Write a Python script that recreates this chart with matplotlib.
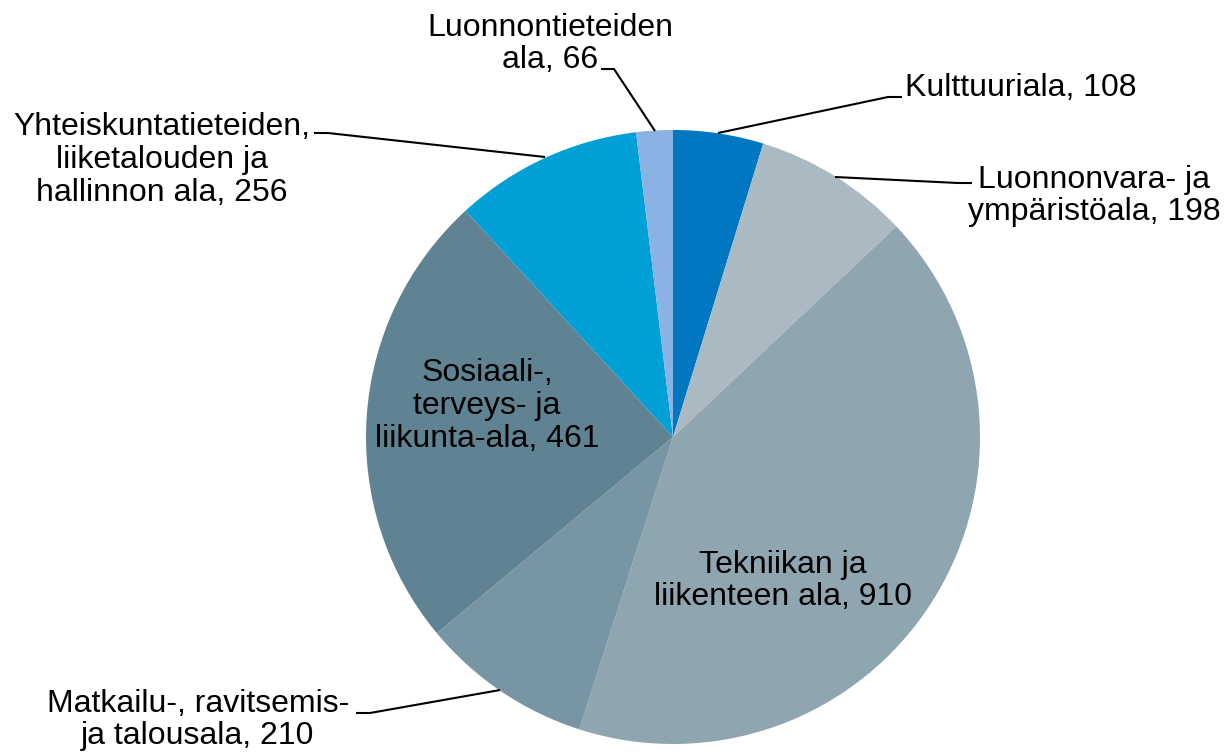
import matplotlib.pyplot as plt

# Slices, clockwise from 12 o'clock
names = ["Kulttuuriala", "Luonnonvara- ja\nympäristöala", "Tekniikan ja\nliikenteen ala",
         "Matkailu-, ravitsemis-\nja talousala", "Sosiaali-,\nterveys- ja\nliikunta-ala",
         "Yhteiskuntatieteiden,\nliiketalouden ja\nhallinnon ala", "Luonnontieteiden\nala"]
# numbers printed in the labels
values = [108, 198, 910, 210, 461, 256, 66]
# slice sizes as drawn in the picture (percent of the circle)
shares = [4.75, 8.22, 41.97, 9.03, 24.22, 9.89, 1.92]
colors = ["#0077C0", "#ABBAC2", "#8FA5B0", "#7795A3", "#5F8393", "#00A0D7", "#8AB2E3"]

W, H = 1224, 756
cx, cy, r = 673, H - 437, 307

plt.rcParams["font.family"] = ["Liberation Sans", "DejaVu Sans"]

fig = plt.figure(figsize=(W / 100, H / 100), dpi=100)
ax = fig.add_axes([0, 0, 1, 1])
ax.pie(shares, colors=colors, startangle=90, counterclock=False,
       center=(cx, cy), radius=r, frame=True,
       wedgeprops=dict(linewidth=0))
ax.set_xlim(0, W)
ax.set_ylim(0, H)
ax.axis("off")

fs = 23
ls = 1.12

def lab(i, x, y, ha="center"):
    ax.text(x, H - y, f"{names[i]}, {values[i]}", ha=ha, va="center",
            fontsize=fs, linespacing=ls, color="black")

def leader(pts):
    xs = [p[0] for p in pts]
    ys = [H - p[1] for p in pts]
    ax.plot(xs, ys, color="black", lw=1.5, solid_capstyle="butt")

# outside labels with leader lines
lab(0, 905, 88, ha="left")
leader([(718, 133), (888, 97), (902, 97)])

lab(1, 1094, 196)
leader([(835, 177), (958, 183), (972, 183)])

lab(3, 198, 720)
leader([(500, 690), (370, 713), (356, 713)])

lab(5, 162, 160)
leader([(545, 157), (328, 133), (314, 133)])

lab(6, 550, 44)
leader([(655, 131), (614, 69), (601, 69)])

# inside labels
lab(4, 487, 406)
lab(2, 783, 581)

fig.savefig("out.png", dpi=100)
